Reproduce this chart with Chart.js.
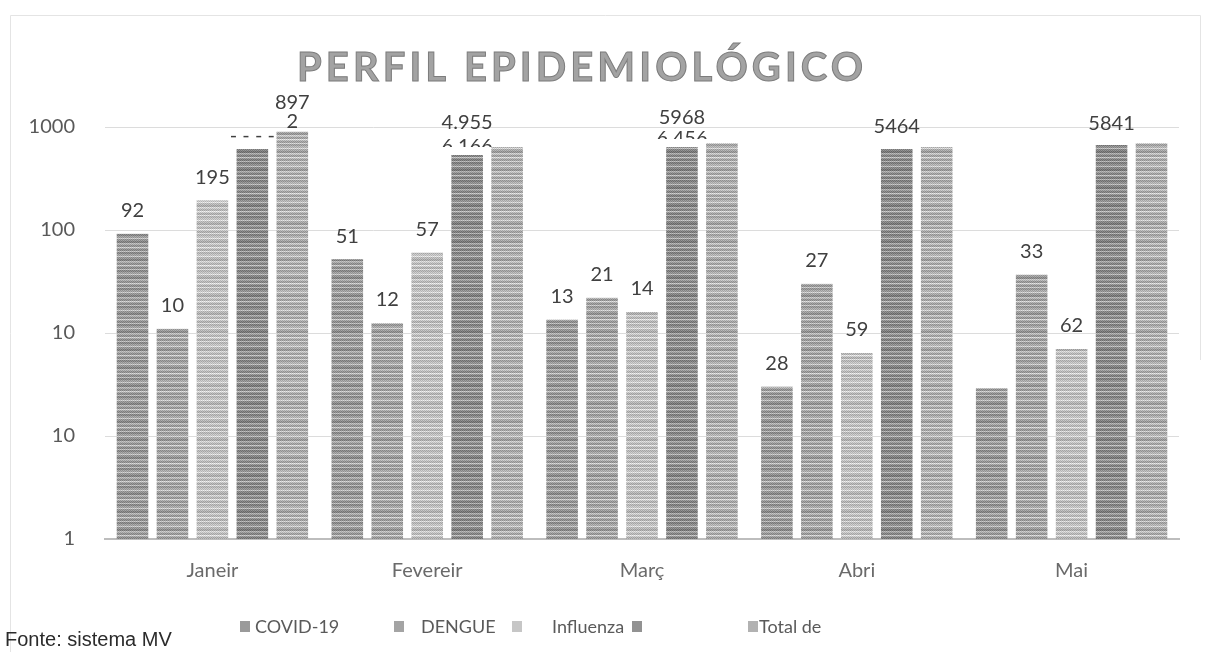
<!DOCTYPE html>
<html>
<head>
<meta charset="utf-8">
<script src="https://cdn.jsdelivr.net/npm/chart.js@4.4.1/dist/chart.umd.min.js"></script>
<style>
html,body{margin:0;padding:0;background:#fff;}
#wrap{position:relative;width:1205px;height:652px;}
</style>
</head>
<body>
<div id="wrap"><canvas id="c"></canvas></div>
<script>
// ---------- data ----------
const chartTitle = 'PERFIL EPIDEMIOLÓGICO';
const sourceNote = 'Fonte: sistema MV';
const categories = ['Janeir', 'Fevereir', 'Març', 'Abri', 'Mai'];
const seriesNames = ['COVID-19', 'DENGUE', 'Influenza', '', 'Total de'];
const covid     = [92, 52, 13.5, 3.0, 2.9];
const dengue    = [11, 12.5, 22, 30, 37];
const influenza = [195, 60, 16, 6.4, 7.0];
const series4   = [611, 535, 640, 611, 668];
const totals    = [897, 640, 700, 640, 700];
const covidText     = ['92', '51', '13', '28', ''];
const dengueText    = ['10', '12', '21', '27', '33'];
const influenzaText = ['195', '57', '14', '59', '62'];
const series4Text   = ['- - - -', '4.955', '5968', '5464', '5841'];
const totalsText    = ['897\n2', '6.166', '6.456', '', ''];
const yTickValues = [0.1, 1, 10, 100, 1000];
const yTickText   = ['1', '10', '10', '100', '1000'];

// ---------- styles ----------
const FONT = 'Lato, "Open Sans", sans-serif';
function stripePattern(shades) {
  const c = document.createElement('canvas');
  c.width = 4; c.height = shades.length;
  const g = c.getContext('2d');
  shades.forEach((s, y) => {
    for (let x = 0; x < 4; x++) {
      const v = Math.max(0, Math.min(255, s + (((x + y) % 2) ? 16 : -16)));
      g.fillStyle = `rgb(${v},${v},${v})`;
      g.fillRect(x, y, 1, 1);
    }
  });
  return g.createPattern(c, 'repeat');
}
const fills = [
  stripePattern([135,135,160,160,200,150,150,130,130,185,170,145,145,205,165,140,140,190]),
  stripePattern([150,150,170,170,210,160,160,140,140,195,180,150,150,215,175,150,150,200]),
  stripePattern([180,180,195,195,225,185,185,170,170,215,200,180,180,228,200,175,175,220]),
  stripePattern([125,125,145,145,190,135,135,118,118,175,155,130,130,195,150,125,125,180]),
  stripePattern([160,160,180,180,215,170,170,150,150,205,190,160,160,220,185,160,160,210])
];
const legendFill = ['#9a9a9a', '#a4a4a4', '#c6c6c6', '#929292', '#b2b2b2'];
const valueTexts = [covidText, dengueText, influenzaText, series4Text, totalsText];

// label placement (style): offset above bar top, optional anchor to other dataset & clip
const labelPlace = {
  0: { dy: -23 }, 1: { dy: -23 }, 2: { dy: -23 },
  3: { dyList: [-13, -32, -29, -22, -22] },
  4: { special: [
        { dy: -10, lineH: 19 },
        { anchor: 3, dy: -8, clip: true },
        { anchor: 3, dy: -8, clip: true },
        null, null ] }
};

const frameAndTextPlugin = {
  id: 'frameAndText',
  beforeDraw(chart) {
    const ctx = chart.ctx;
    ctx.save();
    ctx.fillStyle = '#fff';
    ctx.fillRect(0, 0, chart.width, chart.height);
    ctx.strokeStyle = '#e4e4e4';
    ctx.lineWidth = 1;
    ctx.beginPath();
    ctx.moveTo(10.5, 652); ctx.lineTo(10.5, 15.5); ctx.lineTo(1200.5, 15.5); ctx.lineTo(1200.5, 360);
    ctx.stroke();
    ctx.restore();
  },
  afterDraw(chart) {
    const ctx = chart.ctx;
    ctx.save();
    // title
    ctx.font = 'bold 40px ' + FONT;
    ctx.letterSpacing = '0px';
    const w0 = ctx.measureText(chartTitle).width;
    const targetW = 566;
    const ls = (targetW - w0) / (chartTitle.length - 1);
    ctx.letterSpacing = ls.toFixed(2) + 'px';
    ctx.textAlign = 'left';
    ctx.textBaseline = 'middle';
    ctx.fillStyle = '#a3a3a3';
    ctx.strokeStyle = '#7c7c7c';
    ctx.lineWidth = 1;
    ctx.fillText(chartTitle, 297, 68);
    ctx.strokeText(chartTitle, 297, 68);
    ctx.letterSpacing = '0px';
    // legend
    const legendX = [240, 394, 512, 632, 748];
    const textGap = [15, 27, 40, 0, 11];
    const ly = 627;
    ctx.font = '18px ' + FONT;
    chart.data.datasets.forEach((ds, i) => {
      ctx.fillStyle = legendFill[i];
      ctx.fillRect(legendX[i], ly - 6, 10, 11);
      if (ds.label) {
        ctx.fillStyle = '#5a5a5a';
        ctx.fillText(ds.label, legendX[i] + textGap[i], ly);
      }
    });
    // source note
    ctx.font = '20px "Liberation Sans", Arial, sans-serif';
    ctx.fillStyle = '#2b2b2b';
    ctx.fillText(sourceNote, 5, 640);
    ctx.restore();
  },
  afterDatasetsDraw(chart) {
    const ctx = chart.ctx;
    ctx.save();
    ctx.font = '20px ' + FONT;
    ctx.fillStyle = '#404040';
    ctx.textAlign = 'center';
    ctx.textBaseline = 'middle';
    chart.data.datasets.forEach((ds, di) => {
      const meta = chart.getDatasetMeta(di);
      const texts = valueTexts[di];
      meta.data.forEach((bar, i) => {
        const t = texts[i];
        if (!t) return;
        const p = labelPlace[di];
        if (p.special) {
          const s = p.special[i];
          if (!s) return;
          if (s.anchor !== undefined) {
            const ab = chart.getDatasetMeta(s.anchor).data[i];
            const y = ab.y + s.dy;
            ctx.save();
            ctx.beginPath();
            ctx.rect(0, 0, chart.width, y);
            ctx.clip();
            ctx.fillText(t, ab.x, y);
            ctx.restore();
          } else {
            const lines = t.split('\n');
            lines.forEach((ln, k) => {
              ctx.fillText(ln, bar.x, bar.y + s.dy - (lines.length - 1 - k) * s.lineH);
            });
          }
          return;
        }
        const dy = p.dyList ? p.dyList[i] : p.dy;
        ctx.fillText(t, bar.x, bar.y + dy);
      });
    });
    ctx.restore();
  }
};

const seriesData = [covid, dengue, influenza, series4, totals];
new Chart(document.getElementById('c'), {
  type: 'bar',
  data: {
    labels: categories,
    datasets: seriesData.map((d, i) => ({
      label: seriesNames[i],
      data: d,
      backgroundColor: fills[i],
      borderWidth: 0,
      categoryPercentage: 0.93,
      barPercentage: 0.79
    }))
  },
  options: {
    responsive: true,
    maintainAspectRatio: false,
    animation: false,
    devicePixelRatio: 1,
    layout: { padding: { left: 0, right: 26, top: 127, bottom: 0 } },
    plugins: {
      legend: { display: false },
      title: { display: false },
      tooltip: { enabled: false }
    },
    scales: {
      x: {
        grid: { display: false, drawTicks: false },
        border: { display: true, color: '#bdbdbd', width: 2 },
        ticks: { color: '#6a6a6a', font: { family: FONT, size: 20 }, padding: 20, maxRotation: 0 },
        afterFit(scale) { scale.height = 652 - 539; }
      },
      y: {
        type: 'logarithmic',
        min: 0.1,
        max: 1000,
        grid: { color: '#dcdcdc', lineWidth: 1, drawTicks: false },
        border: { display: false },
        ticks: {
          color: '#595959',
          font: { family: FONT, size: 20 },
          padding: 30,
          autoSkip: false,
          callback: (v, idx) => yTickText[idx]
        },
        afterBuildTicks(scale) { scale.ticks = yTickValues.map(v => ({ value: v })); },
        afterFit(scale) { scale.width = 105; }
      }
    }
  },
  plugins: [frameAndTextPlugin]
});
</script>
</body>
</html>
